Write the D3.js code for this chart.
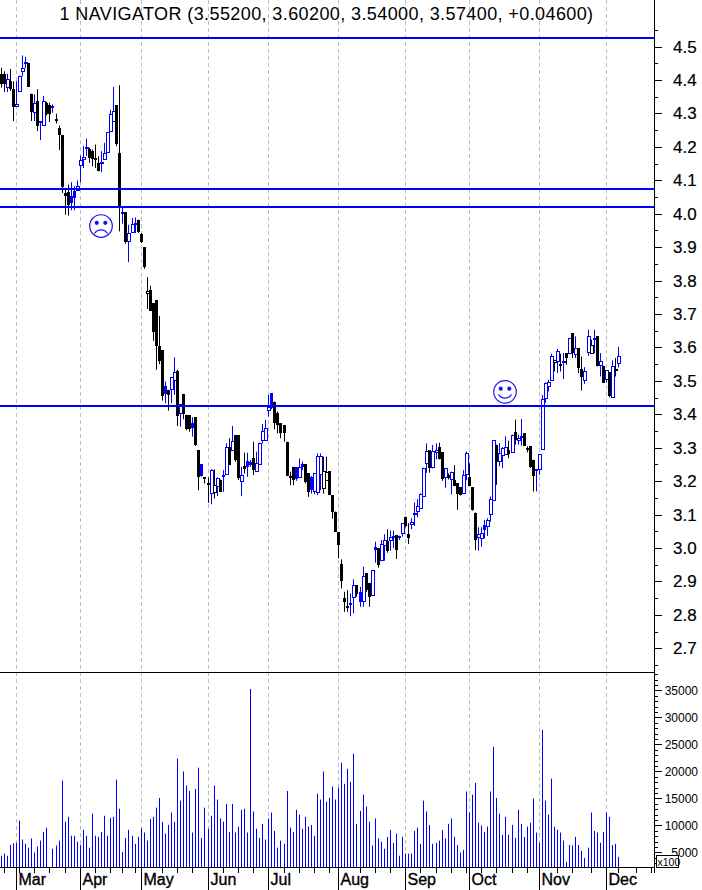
<!DOCTYPE html>
<html>
<head>
<meta charset="utf-8">
<script src="https://cdn.jsdelivr.net/npm/d3@7"></script>
<style>
html,body{margin:0;padding:0;background:#fff;overflow:hidden}
svg{display:block}
text{font-family:"Liberation Sans",Arial,sans-serif;fill:#000}
</style>
</head>
<body>
<svg id="chart" width="702" height="890"></svg>
<script>
const titleText = "1 NAVIGATOR (3.55200, 3.60200, 3.54000, 3.57400, +0.04600)";
const highs = [4.436,4.426,4.419,4.433,4.396,4.396,4.413,4.473,4.469,4.451,
4.359,4.357,4.372,4.277,4.352,4.334,4.332,4.327,4.299,4.264,
4.234,4.077,4.087,4.094,4.082,4.099,4.174,4.202,4.224,4.197,
4.192,4.207,4.172,4.187,4.212,4.244,4.311,4.379,4.324,4.384,
4.02,4.005,3.967,3.987,3.989,3.982,3.942,3.9,3.81,3.784,
3.732,3.742,3.694,3.592,3.498,3.473,3.512,3.57,3.533,3.431,
3.461,3.399,3.398,3.391,3.391,3.293,3.251,3.211,3.211,3.236,
3.235,3.211,3.205,3.233,3.313,3.328,3.365,3.338,3.338,3.243,
3.285,3.285,3.263,3.318,3.288,3.315,3.371,3.383,3.458,3.463,
3.438,3.408,3.373,3.368,3.318,3.228,3.243,3.241,3.268,3.258,
3.251,3.223,3.215,3.223,3.283,3.283,3.273,3.273,3.23,3.158,
3.109,3.047,2.966,2.869,2.874,2.864,2.906,2.889,2.884,2.944,
2.926,2.896,2.934,3.019,2.999,3.024,3.041,3.056,3.052,3.052,
3.039,3.037,3.074,3.094,3.074,3.089,3.136,3.146,3.163,3.24,
3.313,3.293,3.308,3.313,3.315,3.286,3.238,3.223,3.228,3.248,
3.193,3.181,3.233,3.288,3.253,3.181,3.106,3.062,3.062,3.084,
3.089,3.154,3.322,3.309,3.314,3.302,3.334,3.321,3.339,3.384,
3.339,3.386,3.344,3.304,3.304,3.264,3.236,3.281,3.458,3.495,
3.503,3.581,3.563,3.595,3.581,3.583,3.583,3.628,3.643,3.633,
3.598,3.573,3.541,3.653,3.623,3.653,3.633,3.583,3.545,3.531,
3.526,3.561,3.568,3.602];
const lows = [4.377,4.364,4.364,4.367,4.277,4.322,4.367,4.411,4.436,4.379,
4.277,4.277,4.247,4.22,4.267,4.294,4.274,4.302,4.27,4.19,
4.062,3.997,3.994,4.01,4.01,4.072,4.094,4.137,4.172,4.152,
4.142,4.137,4.127,4.124,4.164,4.182,4.247,4.277,4.202,3.947,
3.97,3.91,3.855,3.942,3.942,3.942,3.912,3.835,3.715,3.71,
3.62,3.533,3.55,3.441,3.433,3.411,3.433,3.458,3.365,3.363,
3.385,3.352,3.348,3.333,3.305,3.173,3.213,3.193,3.135,3.131,
3.148,3.155,3.168,3.168,3.218,3.248,3.293,3.258,3.203,3.155,
3.223,3.213,3.243,3.218,3.231,3.253,3.313,3.321,3.393,3.415,
3.355,3.343,3.328,3.318,3.215,3.188,3.188,3.201,3.211,3.233,
3.193,3.153,3.163,3.161,3.158,3.173,3.163,3.203,3.158,3.088,
3.049,2.969,2.879,2.809,2.809,2.796,2.804,2.854,2.824,2.824,
2.869,2.824,2.859,2.956,2.941,2.964,2.962,2.986,2.992,2.999,
2.967,3.024,3.034,3.062,3.012,3.056,3.066,3.092,3.122,3.154,
3.225,3.225,3.238,3.265,3.265,3.201,3.18,3.205,3.16,3.185,
3.114,3.157,3.164,3.203,3.185,3.112,2.994,2.992,3.004,3.029,
3.036,3.079,3.142,3.189,3.244,3.239,3.279,3.269,3.284,3.309,
3.309,3.306,3.306,3.286,3.239,3.169,3.169,3.219,3.296,3.434,
3.468,3.501,3.528,3.523,3.528,3.505,3.548,3.583,3.568,3.568,
3.523,3.471,3.491,3.575,3.583,3.583,3.543,3.513,3.495,3.495,
3.451,3.451,3.513,3.54];
const opens = [4.419,4.419,4.379,4.396,4.372,4.322,4.367,4.426,4.451,4.451,
4.359,4.304,4.336,4.272,4.267,4.33,4.324,4.322,4.282,4.257,
4.234,4.062,4.064,4.052,4.067,4.072,4.144,4.164,4.195,4.194,
4.187,4.167,4.152,4.152,4.164,4.184,4.247,4.277,4.324,4.182,
4.004,4.005,3.917,3.945,3.97,3.982,3.94,3.9,3.762,3.772,
3.732,3.742,3.604,3.592,3.485,3.473,3.475,3.5,3.528,3.405,
3.461,3.398,3.398,3.375,3.391,3.293,3.251,3.211,3.193,3.165,
3.168,3.185,3.203,3.217,3.22,3.303,3.293,3.338,3.338,3.201,
3.245,3.261,3.258,3.268,3.231,3.253,3.323,3.321,3.413,3.463,
3.438,3.405,3.373,3.368,3.318,3.215,3.243,3.241,3.211,3.251,
3.251,3.223,3.213,3.168,3.168,3.223,3.178,3.205,3.23,3.158,
3.109,3.047,2.952,2.849,2.828,2.834,2.854,2.889,2.869,2.841,
2.926,2.896,2.859,3.002,2.999,2.964,3.009,3.021,3.024,3.033,
3.039,3.037,3.044,3.092,3.042,3.07,3.102,3.112,3.122,3.156,
3.253,3.293,3.243,3.288,3.303,3.286,3.211,3.218,3.205,3.203,
3.193,3.181,3.164,3.223,3.211,3.181,3.104,3.032,3.029,3.069,
3.067,3.102,3.144,3.309,3.259,3.279,3.282,3.292,3.289,3.347,
3.324,3.332,3.344,3.3,3.304,3.264,3.236,3.236,3.296,3.45,
3.485,3.503,3.555,3.561,3.549,3.558,3.583,3.583,3.643,3.581,
3.598,3.535,3.501,3.585,3.583,3.625,3.633,3.545,3.545,3.503,
3.526,3.451,3.532,3.552];
const closes = [4.389,4.389,4.403,4.372,4.317,4.327,4.413,4.436,4.455,4.379,
4.304,4.332,4.262,4.276,4.338,4.297,4.297,4.316,4.28,4.235,
4.077,4.053,4.024,4.03,4.045,4.084,4.16,4.17,4.198,4.167,
4.164,4.162,4.129,4.155,4.182,4.244,4.297,4.307,4.207,4.017,
3.999,3.914,3.942,3.97,3.972,3.945,3.917,3.841,3.768,3.71,
3.644,3.604,3.56,3.453,3.461,3.458,3.511,3.525,3.393,3.431,
3.401,3.355,3.355,3.359,3.308,3.213,3.215,3.205,3.189,3.233,
3.188,3.208,3.168,3.213,3.301,3.248,3.321,3.263,3.208,3.218,
3.235,3.243,3.248,3.233,3.255,3.315,3.35,3.358,3.423,3.418,
3.375,3.368,3.343,3.343,3.215,3.213,3.203,3.205,3.241,3.243,
3.198,3.165,3.175,3.223,3.276,3.276,3.23,3.228,3.158,3.108,
3.049,3.009,2.901,2.838,2.824,2.828,2.889,2.862,2.839,2.916,
2.874,2.854,2.934,2.992,2.947,3.012,3.024,2.992,3.032,3.035,
2.994,3.032,3.074,3.064,3.03,3.077,3.104,3.127,3.163,3.24,
3.29,3.24,3.291,3.293,3.268,3.205,3.238,3.208,3.226,3.185,
3.159,3.157,3.218,3.285,3.185,3.112,3.022,3.042,3.044,3.054,
3.084,3.146,3.322,3.259,3.284,3.3,3.302,3.279,3.339,3.322,
3.329,3.334,3.306,3.298,3.241,3.216,3.232,3.281,3.445,3.495,
3.497,3.575,3.561,3.59,3.547,3.56,3.568,3.628,3.583,3.598,
3.538,3.511,3.528,3.633,3.608,3.628,3.543,3.558,3.495,3.531,
3.453,3.543,3.534,3.574];
const upDay = [0,0,1,0,0,1,1,1,1,0, 0,1,0,1,1,0,0,1,0,0, 0,0,0,1,1,1,1,1,1,0, 0,0,0,1,1,1,1,1,0,0,
1,0,1,1,1,0,0,0,0,0, 0,0,0,0,1,0,1,1,0,1, 0,0,0,1,0,0,1,0,0,1, 0,1,0,1,1,0,1,0,0,1,
0,1,1,0,1,1,1,1,1,1, 0,0,0,0,0,0,0,1,1,1, 0,0,1,1,1,1,0,0,0,0, 0,0,0,0,0,1,1,0,1,1,
0,0,1,1,0,1,1,0,1,1, 0,1,1,0,0,1,1,1,1,1, 1,0,1,1,0,0,1,0,1,0, 0,0,1,1,0,0,0,1,1,1,
1,1,1,0,1,1,1,0,1,0, 1,1,0,0,0,0,1,1,1,1, 1,1,0,1,0,1,0,1,0,1, 0,0,1,1,0,1,0,1,0,1, 0,1,0,1];
const volumes = [4400,4800,4400,6400,6700,6800,10900,7400,6600,5900,7600,5000,6100,7200,8800,9600,2000,5700,6300,7200,
18300,10700,11600,8100,8100,7000,6400,9200,8100,5900,12200,8100,7900,8800,11800,8100,11400,11600,18500,13100,
5100,7700,9200,8100,6600,7900,9500,8700,7200,11200,11600,13300,15100,10700,8500,10100,12400,10700,22400,14600,
20000,17400,16400,8700,16800,20700,7700,13300,9400,11800,17400,14800,11300,10700,14000,8800,14000,
8700,9800,12900,13100,8700,35300,12600,9400,7700,10300,7400,11300,12400,9000,5900,7200,6600,16400,9600,8800,
12900,12000,9400,11600,9800,10100,8100,15900,14800,20000,14400,15100,17200,14800,17000,21600,17700,20500,18100,23300,
10300,12700,15700,13500,10700,6300,11300,7600,7000,5700,7900,9200,6800,8500,4400,7900,4800,4800,4800,9000,
9600,6600,14600,12600,10100,6600,6800,7200,9200,7600,10300,11300,7900,6400,5000,5500,16300,
12400,15700,17900,10500,10000,8800,9800,16300,24600,15100,12200,8300,11600,8300,10100,7700,12900,10300,7900,9800,
10500,15000,8700,6800,27700,14600,12000,18700,9800,9200,8700,7200,3300,6400,6300,7900,6400,5300,4000,5900,
12400,9000,8700,6800,8800,12400,11600,6400,6600,4200];
const monthNames = ["Mar","Apr","May","Jun","Jul","Aug","Sep","Oct","Nov","Dec"];
const monthStarts = [5,26,46,68,88,111,133,154,177,199];
const weekTicks = [1,6,11,16,21,31,36,40,44,53,58,63,73,78,83,93,98,103,108,118,123,128,138,143,148,153,158,163,168,173,183,188,194,203,209,214];
const priceLabels = [2.7,2.8,2.9,3.0,3.1,3.2,3.3,3.4,3.5,3.6,3.7,3.8,3.9,4.0,4.1,4.2,4.3,4.4,4.5];
const priceMinor = [2.65,2.75,2.85,2.95,3.05,3.15,3.25,3.35,3.45,3.55,3.65,3.75,3.85,3.95,4.05,4.15,4.25,4.35,4.45,4.55];
const volumeLabels = [5000,10000,15000,20000,25000,30000,35000];
const volumeMinor = [3000,4000,6000,7000,8000,9000,11000,12000,13000,14000,16000,17000,18000,19000,21000,22000,23000,24000,26000,27000,28000,29000,31000,32000,33000,34000,36000,37000,38000];
const levelLines = [4.526,4.075,4.021,3.425];
const signalDays = [32.8,165.7];
const signalPrices = [3.963,3.467];
const signalMoods = ["sad","happy"];

const W = 702, H = 890, axisX = 654.5, panelLine = 672.5, baseY = 867.5;
const BLUE = "#0000ff";
const svg = d3.select("#chart");
const x = d3.scaleLinear().domain([0, 203]).range([1.3, 618.4]);
const px = i => Math.floor(x(i)) + 0.5;
const y = d3.scaleLinear().domain([2.7, 4.5]).range([648.3, 46.5]);
const yV = d3.scaleLinear().domain([2222, 38000]).range([baseY, 674.3]);

// month grid
svg.append("g").selectAll("line").data(monthStarts).join("line")
  .attr("x1", px).attr("x2", px).attr("y1", 0).attr("y2", baseY)
  .attr("stroke", "#bcbcbc").attr("stroke-width", 1).attr("stroke-dasharray", "4,3");

// volume bars
svg.append("g").selectAll("line").data(volumes).join("line")
  .attr("x1", (d, i) => px(i)).attr("x2", (d, i) => px(i))
  .attr("y1", baseY).attr("y2", d => yV(Math.max(d, 2222)))
  .attr("stroke", BLUE).attr("stroke-width", 1);

// candles
const days = d3.range(closes.length);
const tone = i => upDay[i] ? BLUE : "#000";
const hollow = i => closes[i] > opens[i];
const cg = svg.append("g");
cg.selectAll("line").data(days).join("line")
  .attr("x1", px).attr("x2", px)
  .attr("y1", i => y(highs[i])).attr("y2", i => y(lows[i]))
  .attr("stroke", tone).attr("stroke-width", 1);
cg.selectAll("rect").data(days).join("rect")
  .attr("x", i => hollow(i) ? px(i) - 1 : px(i) - 1.5)
  .attr("width", 3)
  .attr("y", i => Math.round(y(Math.max(opens[i], closes[i]))) + (hollow(i) ? 0.5 : 0))
  .attr("height", i => Math.max(hollow(i) ? 1 : 2, Math.round(Math.abs(y(opens[i]) - y(closes[i])))))
  .attr("fill", i => hollow(i) ? "#fff" : tone(i))
  .attr("stroke", i => hollow(i) ? tone(i) : "none")
  .attr("stroke-width", 1);

// level lines
svg.append("g").selectAll("line").data(levelLines).join("line")
  .attr("x1", 0).attr("x2", axisX)
  .attr("y1", d => Math.round(y(d))).attr("y2", d => Math.round(y(d)))
  .attr("stroke", BLUE).attr("stroke-width", 2);

// signal faces
const faces = svg.append("g").selectAll("g").data(signalDays).join("g")
  .attr("transform", (d, i) => `translate(${x(d)},${y(signalPrices[i])})`)
  .attr("fill", "none").attr("stroke", "#2018f0").attr("stroke-width", 1.2);
faces.append("circle").attr("r", 11.3);
faces.append("circle").attr("cx", -4.3).attr("cy", -3.2).attr("r", 1.5).attr("fill", BLUE);
faces.append("circle").attr("cx", 4.3).attr("cy", -3.2).attr("r", 1.5).attr("fill", BLUE);
faces.append("path").attr("d", (d, i) => signalMoods[i] === "happy"
  ? "M-6.5,2.5A7.5,7.5 0 0 0 6.5,2.5" : "M-6.5,7.5A7.5,7.5 0 0 1 6.5,7.5");

// frame lines
svg.append("line").attr("x1", 0).attr("x2", axisX).attr("y1", panelLine).attr("y2", panelLine).attr("stroke", "#000");
svg.append("line").attr("x1", 0).attr("x2", axisX).attr("y1", baseY).attr("y2", baseY).attr("stroke", "#000");
svg.append("line").attr("x1", axisX).attr("x2", axisX).attr("y1", 0).attr("y2", 873).attr("stroke", "#000");

// axes
function tickAxis(scale, values, size, fmt) {
  const a = d3.axisRight(scale).tickValues(values).tickSize(size).tickPadding(0);
  a.tickFormat(fmt || (() => ""));
  const g = svg.append("g").attr("transform", `translate(${axisX},0)`).call(a);
  g.select(".domain").remove();
  g.selectAll(".tick").attr("transform", d => `translate(0,${Math.round(scale(d)) + 0.5})`);
  g.selectAll("line").attr("stroke", "#000");
  return g;
}
const gP = tickAxis(y, priceLabels, 7.5, d3.format(".1f"));
gP.selectAll("text").attr("x", 18.5).attr("dy", "0.35em").attr("text-anchor", "start")
  .attr("font-size", 17).attr("font-family", '"Liberation Sans"')
  .attr("stroke", "#000").attr("stroke-width", 0.2);
tickAxis(y, priceMinor, 3.5);
const gV = tickAxis(yV, volumeLabels, 7.5, d3.format("d"));
gV.selectAll("text").attr("x", 43.5).attr("dy", "0.35em").attr("text-anchor", "end")
  .attr("font-size", 12).attr("font-family", '"Liberation Sans"').attr("fill", "#111");
tickAxis(yV, volumeMinor, 3.5);

const weekAxis = d3.axisBottom(x).tickValues(weekTicks).tickSize(5.5).tickFormat(() => "");
const gW = svg.append("g").attr("transform", `translate(0,${baseY})`).call(weekAxis);
gW.select(".domain").remove();
gW.selectAll(".tick").attr("transform", d => `translate(${px(d)},0)`);
gW.selectAll("line").attr("stroke", "#000");

const monthAxis = d3.axisBottom(x).tickValues(monthStarts).tickSize(22.5)
  .tickFormat((d, i) => monthNames[i]);
const gM = svg.append("g").attr("transform", `translate(0,${baseY})`).call(monthAxis);
gM.select(".domain").remove();
gM.selectAll(".tick").attr("transform", d => `translate(${px(d)},0)`);
gM.selectAll("line").attr("stroke", "#000");
gM.selectAll("text").attr("text-anchor", "start").attr("x", 2).attr("y", 17.5).attr("dy", 0)
  .attr("font-size", 16).attr("font-family", '"Liberation Sans"')
  .attr("stroke", "#000").attr("stroke-width", 0.35);

// x100 box
const box = svg.append("g").attr("transform", "translate(656.5,855.5)");
box.append("rect").attr("width", 22).attr("height", 12).attr("fill", "#fff").attr("stroke", "#000");
box.append("text").attr("x", 1).attr("y", 10).attr("font-size", 10.5).attr("fill", "#222").text("x100");

// title
svg.append("text").attr("x", 326.5).attr("y", 20).attr("text-anchor", "middle")
  .attr("font-size", 18).attr("letter-spacing", 0.4).text(titleText);
</script>
</body>
</html>
